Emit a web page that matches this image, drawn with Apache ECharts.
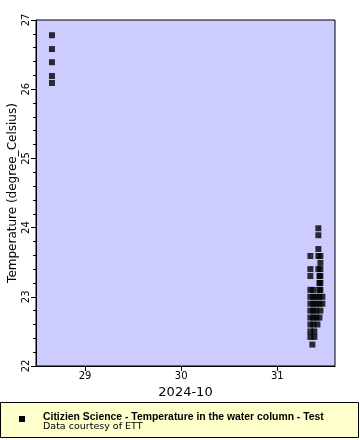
<!DOCTYPE html>
<html>
<head>
<meta charset="utf-8">
<script src="https://cdn.jsdelivr.net/npm/echarts@6/dist/echarts.min.js"></script>
<style>html,body{margin:0;padding:0;background:#fff;}#c{width:360px;height:440px;}</style>
</head>
<body>
<div id="c"></div>
<script>
// Day of month (October 2024) for each reading
var days = [
  28.656, 28.656, 28.656, 28.656, 28.656,
  31.427, 31.427, 31.427,
  31.344, 31.427, 31.448,
  31.448,
  31.344, 31.427, 31.448,
  31.344, 31.438, 31.448,
  31.438, 31.448,
  31.344, 31.375, 31.438, 31.448,
  31.344, 31.375, 31.406, 31.438, 31.469,
  31.344, 31.375, 31.406, 31.438, 31.469,
  31.344, 31.375, 31.406, 31.448,
  31.344, 31.375, 31.406, 31.438,
  31.344, 31.375, 31.417,
  31.344, 31.385,
  31.344, 31.385,
  31.365
];
// Temperature (degree_Celsius)
var temps = [
  26.78, 26.58, 26.39, 26.19, 26.09,
  23.99, 23.89, 23.69,
  23.59, 23.59, 23.59,
  23.49,
  23.40, 23.40, 23.40,
  23.30, 23.30, 23.30,
  23.20, 23.20,
  23.10, 23.10, 23.10, 23.10,
  23.00, 23.00, 23.00, 23.00, 23.00,
  22.90, 22.90, 22.90, 22.90, 22.90,
  22.80, 22.80, 22.80, 22.80,
  22.70, 22.70, 22.70, 22.70,
  22.60, 22.60, 22.60,
  22.50, 22.50,
  22.42, 22.42,
  22.31
];
var xTicks = [29, 30, 31];
var seriesName = 'Citizien Science - Temperature in the water column - Test';
var credit = 'Data courtesy of ETT';

var font = 'DejaVu Sans';
var pts = days.map(function (d, i) { return [d, temps[i]]; });
var chart = echarts.init(document.getElementById('c'), null, {renderer: 'canvas'});
chart.setOption({
  animation: false,
  grid: {left: 36, top: 20, right: 25, bottom: 74, outerBoundsMode: 'none', containLabel: false, show: true, backgroundColor: '#ccccff', borderColor: '#000', borderWidth: 1},
  xAxis: {
    type: 'value', min: 28.49, max: 31.6,
    name: '2024-10', nameLocation: 'middle', nameGap: 20,
    nameTextStyle: {fontFamily: font, fontSize: 13, color: '#000'},
    axisLine: {show: true, lineStyle: {color: '#000'}},
    axisTick: {show: true, length: 5, lineStyle: {color: '#000'}, customValues: xTicks},
    axisLabel: {fontFamily: font, fontSize: 10, color: '#000', margin: 5, customValues: xTicks, formatter: function (v) { return String(Math.round(v)); }},
    splitLine: {show: false}
  },
  yAxis: {
    type: 'value', min: 22, max: 27, interval: 1,
    name: 'Temperature (degree_Celsius)', nameLocation: 'middle', nameGap: 17, nameMoveOverlap: false,
    nameTextStyle: {fontFamily: font, fontSize: 12, color: '#000'},
    axisLine: {show: true, lineStyle: {color: '#000'}},
    axisTick: {show: true, length: 5, lineStyle: {color: '#000'}},
    minorTick: {show: true, splitNumber: 5, length: 3, lineStyle: {color: '#000'}},
    axisLabel: {fontFamily: font, fontSize: 10, color: '#000', rotate: 90, margin: 5},
    splitLine: {show: false}
  },
  series: [{
    name: seriesName, type: 'scatter', symbol: 'rect', symbolSize: 6,
    itemStyle: {color: '#000'}, data: pts
  }],
  graphic: [
    {type: 'rect', shape: {x: 0.5, y: 402.5, width: 358, height: 35}, style: {fill: '#ffffcc', stroke: '#000', lineWidth: 1}},
    {type: 'rect', shape: {x: 19, y: 416, width: 6, height: 6}, style: {fill: '#000'}},
    {type: 'text', x: 43, y: 412, style: {text: seriesName, font: 'bold 10.4px "Liberation Sans"', fill: '#000'}},
    {type: 'text', x: 43, y: 422, style: {text: credit, font: '9.5px "DejaVu Sans"', fill: '#000'}}
  ]
});
</script>
</body>
</html>
